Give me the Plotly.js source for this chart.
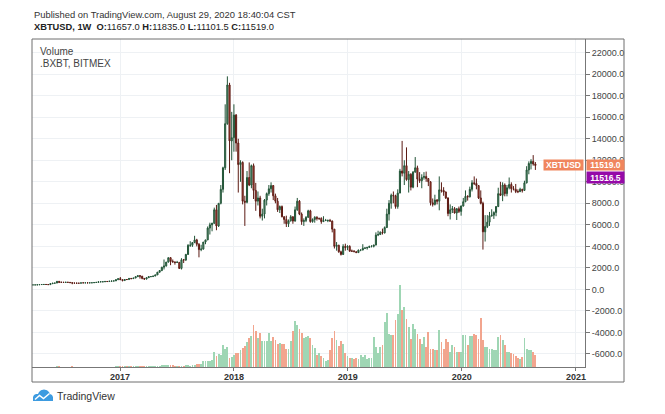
<!DOCTYPE html>
<html>
<head>
<meta charset="utf-8">
<script src="https://cdn.plot.ly/plotly-3.0.1.min.js"></script>
<style>
html,body{margin:0;padding:0;background:#fff;}
#chart{width:665px;height:414px;}
</style>
</head>
<body>
<div id="chart"></div>
<script>
// ---- DATA (weekly candles of XBTUSD) ----
const firstWeek = '2016-03-28';
const openP = [
416,420,420,428,450,455,459,456,442,530,577,590,750,660,660,650,665,655,625,590,585,580,575,610,608,610,605,610,617,640,655,700,705,705,740,730,765,777,790,900,
1000,905,820,920,915,1020,1000,1055,1180,1270,1230,1020,960,1090,1180,1190,1240,1345,1600,1750,2060,2180,2540,2950,2600,2550,2500,2510,1950,2750,2730,3250,4100,4100,4350,4600,4200,3700,3750,4400,4600,5700,6000,6140,7400,5900,8000,9300,11300,15400,19000,13800,
14100,16200,13600,11600,11800,8200,8100,10400,9700,11500,9200,8200,8500,6800,7000,8300,8900,9350,9650,8700,8200,7400,7700,6750,6500,6100,6380,6750,6350,7400,8200,7000,6300,6400,6700,7300,6300,6500,6700,6600,6600,6300,6400,6400,6400,6350,5600,4000,4100,3500,3250,4000,3900,
4000,3550,3550,3500,3420,3650,3650,3820,3850,3900,4000,4000,4120,5050,5100,5300,5250,5750,7000,8000,8750,8700,7700,8950,11000,10800,11500,10200,10700,9500,10900,11300,10250,10100,10400,10500,10300,10000,8050,7900,8300,8200,9250,9200,9050,8500,7050,7400,7500,7100,7500,7250,
7750,8150,8650,8600,9300,9900,9850,9650,8500,8000,5350,5850,6250,6850,6900,7150,7700,8900,8750,9700,8900,9450,9750,9350,9300,9100,9080,9300,9200,9900,11100,11700,11900,11657
];
const highP = [
425,425,430,452,468,464,462,458,535,590,600,780,770,705,690,680,675,660,630,600,590,585,615,630,612,612,615,620,645,660,720,740,750,755,750,770,780,795,930,1000,
1150,910,930,925,1035,1060,1060,1200,1290,1330,1250,1060,1100,1200,1210,1245,1350,1620,1800,2100,2780,2550,2950,2980,2780,2600,2650,2550,2900,2830,3300,4200,4480,4380,4980,4700,4300,4150,4400,4600,5850,6200,6200,7600,7850,8000,9700,11400,17200,19800,19200,16500,
17200,16300,14000,12000,11900,8700,11000,11800,11600,11700,9900,9100,8700,7500,8400,9000,9700,9950,9700,8900,8500,7800,7800,6800,6850,6500,6900,6800,7700,8500,8300,7150,6600,6800,7400,7400,6600,6800,6800,6650,6700,6800,6550,6500,6550,6400,5600,4400,4150,3600,4200,4250,4100,
4100,3700,3650,3550,3700,3700,4200,3900,3950,4050,4100,4150,5300,5450,5400,5650,5850,7500,8300,8900,9100,8800,9300,11200,13800,12000,13200,11000,10800,11000,12300,11500,10900,10700,10900,10950,10350,10050,8450,8800,8400,10500,9950,9500,9100,8550,7900,7750,7650,7550,7700,7800,
8500,9200,8750,9550,10150,10500,10300,9700,9200,8150,6900,6900,7200,7450,7250,7750,9450,10000,9950,9850,9700,10400,9950,9600,9800,9300,9450,9350,10100,11450,11900,12100,12480,11835
];
const lowP = [
412,415,418,426,443,442,448,436,440,525,570,588,590,620,615,645,645,620,480,580,565,570,570,600,600,592,600,605,612,630,650,690,700,695,725,725,750,770,785,890,
880,750,810,880,910,950,995,1050,1160,1000,940,900,930,1060,1160,1180,1230,1340,1550,1700,1850,2120,2500,2250,2500,2300,2480,1900,1850,2450,2650,3200,3950,3950,4300,4000,2980,3550,3700,4200,4580,5100,5400,6100,5500,5800,7900,9000,11100,15300,10800,12000,
12800,12800,9000,10000,7900,5900,8000,9600,9400,8400,7300,7800,6600,6400,6600,7800,8700,9000,8300,8000,7200,7100,6700,6100,5800,5800,6300,6100,6300,7300,6900,6000,5900,6250,6650,6200,6200,6200,6400,6450,6100,6300,6350,6250,6300,5300,3800,3600,3400,3150,3200,3600,3650,
3500,3500,3500,3400,3380,3550,3650,3750,3700,3850,3900,3900,4100,4950,5050,5100,5200,5700,6400,7500,8000,7500,7500,8950,10500,9700,10100,9000,9200,9400,10850,9500,9900,9400,10200,10000,9600,7800,7700,7800,7900,7350,9000,8700,8400,6800,6500,7100,7050,6450,7100,6850,
7700,8100,8250,8550,9100,9700,9300,8400,7900,3700,4450,5700,5900,6750,6550,6800,7650,8700,8200,8650,8650,9300,9000,9200,8950,8950,9050,9000,9150,9850,10700,11150,11500,11101.5
];
const closeP = [
420,420,428,450,455,459,456,442,530,577,590,750,660,660,650,665,655,625,590,585,580,575,610,608,610,605,610,617,640,655,700,705,705,740,730,765,777,790,900,1000,
905,820,920,915,1020,1000,1055,1180,1270,1230,1020,960,1090,1180,1190,1240,1345,1600,1750,2060,2180,2540,2950,2600,2550,2500,2510,1950,2750,2730,3250,4100,4100,4350,4600,4200,3700,3750,4400,4600,5700,6000,6140,7400,5900,8000,9300,11300,15400,19000,13800,14100,
16200,13600,11600,11800,8200,8100,10400,9700,11500,9200,8200,8500,6800,7000,8300,8900,9350,9650,8700,8200,7400,7700,6750,6500,6100,6380,6750,6350,7400,8200,7000,6300,6400,6700,7300,6300,6500,6700,6600,6600,6300,6400,6400,6400,6350,5600,4000,4100,3500,3250,4000,3900,4000,
3550,3550,3500,3420,3650,3650,3820,3850,3900,4000,4000,4120,5050,5100,5300,5250,5750,7000,8000,8750,8700,7700,8950,11000,10800,11500,10200,10700,9500,10900,11300,10250,10100,10400,10500,10300,10000,8050,7900,8300,8200,9250,9200,9050,8500,7050,7400,7500,7100,7500,7250,7750,
8150,8650,8600,9300,9900,9850,9650,8500,8000,5350,5850,6250,6850,6900,7150,7700,8900,8750,9700,8900,9450,9750,9350,9300,9100,9080,9300,9200,9900,11100,11700,11900,11650,11519
];
// volume, relative units
const volume = [
0.3,0.3,0.3,0.3,0.4,0.3,0.3,0.3,0.5,0.5,0.4,0.8,0.7,0.5,0.4,0.4,0.4,0.3,0.6,0.4,0.3,0.3,0.3,0.3,0.3,0.3,0.3,0.3,0.4,0.4,0.5,0.5,0.5,0.4,0.4,0.4,0.4,0.4,0.6,0.8,
1.5,1.2,0.8,0.7,0.8,0.9,0.8,1.0,1.2,1.5,1.5,1.2,1.0,1.0,0.8,0.8,1.0,1.3,1.5,1.8,2.5,1.8,2.0,2.2,1.6,1.4,1.2,
1,1,1.5,2,2,1.5,2,2.5,3,3,3,6,6,6,6,7,
15,11,13,12,22,18,20,9,10,12,14,14,17,19,21,25,29,31,42,36,29,34,26,26,26,34,26,30,27,23,24,23,23,18,18,26,36,46,42,38,34,29,30,31,29,22,19,12,14,11,9,6,7,17,29,36,27,21,26,23,14,11,9,9,8,9,8,
12,10,12,8,9,9,30,20,14,20,22,45,54,33,32,32,47,53,82,57,60,48,40,28,43,38,33,28,23,30,20,35,18,18,17,17,37,25,18,28,25,15,22,20,15,15,15,32,32,22,31,31,33,32,28,49,27,20,20,18,18,17,17,30,32,27,22,15,15,14,13,11,9,8,10,29,18,17,17,15,12
];
const yTickVals = [-6000,-4000,-2000,0,2000,4000,6000,8000,10000,12000,14000,16000,18000,20000,22000];
const xTickVals = ['2017-01-01','2018-01-01','2019-01-01','2020-01-01','2021-01-01'];
const xTickText = ['2017','2018','2019','2020','2021'];
const symbol = 'XBTUSD';
const markPrice = 11516.5;

// ---- build ----
function weeklyDates(start, n){
  const out = [];
  const t0 = Date.parse(start + 'T00:00:00Z');
  for (let i = 0; i < n; i++) out.push(new Date(t0 + i*7*86400000).toISOString().slice(0,10));
  return out;
}
const dates = weeklyDates(firstWeek, closeP.length);
const volColors = closeP.map((c,i) => c >= openP[i] ? '#9fd6b4' : '#f2a58e');
const last = closeP.length - 1;

const W = 665, Hh = 414, PL = 32, PR = 585, PT = 39, PB = 367;
const px = x => (x - PL) / (PR - PL);
const py = y => (PB - y) / (PB - PT);

function pathFrom(pts){
  return 'M' + pts.map(p => px(p[0]).toFixed(5) + ',' + py(p[1]).toFixed(5)).join(' L') ;
}

const candle = {
  type: 'candlestick', x: dates, open: openP, high: highP, low: lowP, close: closeP,
  increasing: {line: {color: '#225437', width: 1}, fillcolor: '#6ba583'},
  decreasing: {line: {color: '#5b1a13', width: 1}, fillcolor: '#d75442'},
  whiskerwidth: 0, showlegend: false, hoverinfo: 'skip', xaxis: 'x', yaxis: 'y'
};
const vol = {
  type: 'bar', x: dates, y: volume, yaxis: 'y2', xaxis: 'x',
  marker: {color: volColors, line: {width: 0}}, width: 5.8*86400000,
  showlegend: false, hoverinfo: 'skip'
};

const fontMain = 'Liberation Sans, Arial, sans-serif';
const hdr2 = '<b>' + symbol + ', 1W</b>  <b>O:</b>' + openP[last].toFixed(1) +
  ' <b>H:</b>' + highP[last].toFixed(1) + ' <b>L:</b>' + lowP[last].toFixed(1) +
  ' <b>C:</b>' + closeP[last].toFixed(1);

const layout = {
  width: W, height: Hh,
  margin: {l: PL, r: W - PR, t: PT, b: Hh - PB, pad: 0},
  paper_bgcolor: '#ffffff', plot_bgcolor: '#ffffff',
  font: {family: fontMain, color: '#333'},
  showlegend: false,
  bargap: 0,
  xaxis: {
    type: 'date', range: ['2016-03-25', '2021-01-30'],
    tickmode: 'array', tickvals: xTickVals, ticktext: xTickText,
    ticks: 'outside', ticklen: 3, tickcolor: '#777', tickwidth: 1,
    ticklabelstandoff: -2,
    showline: true, linecolor: '#777', linewidth: 1,
    showgrid: true, gridcolor: '#eef1f4', gridwidth: 1,
    zeroline: false,
    tickfont: {size: 9, color: '#333', family: fontMain, weight: 'bold'},
    rangeslider: {visible: false}, fixedrange: true
  },
  yaxis: {
    side: 'right', range: [-7212, 23271],
    tickmode: 'array', tickvals: yTickVals, ticktext: yTickVals.map(v => v.toFixed(1)),
    ticks: 'outside', ticklen: 4, tickcolor: '#777', tickwidth: 1,
    showline: true, linecolor: '#777', linewidth: 1,
    showgrid: true, gridcolor: '#eef1f4', gridwidth: 1,
    zeroline: false,
    tickfont: {size: 9, color: '#444', family: fontMain},
    fixedrange: true
  },
  yaxis2: {
    overlaying: 'y', side: 'right', range: [0, 328], visible: false,
    showgrid: false, zeroline: false, fixedrange: true
  },
  shapes: [
    {type: 'rect', xref: 'paper', yref: 'paper', x0: 0, x1: px(624), y0: py(382), y1: 1,
     line: {color: '#6e6e6e', width: 1}, fillcolor: 'rgba(0,0,0,0)', layer: 'above'},
    {type: 'path', xref: 'paper', yref: 'paper',
     path: pathFrom([[33,401],[33,397],[34,395],[36,394],[38,394],[39,392],[41,390.3],[44,389.5],[47,390.2],[49,392],[50,394],[52,395],[53,397],[53,401]]) + ' Z',
     fillcolor: '#3d9be0', line: {width: 0}, layer: 'above'},
    {type: 'path', xref: 'paper', yref: 'paper',
     path: pathFrom([[35,399.5],[39.5,395.5],[43.5,398.5],[49.5,393.5]]),
     line: {color: '#ffffff', width: 1.5}, layer: 'above'}
  ],
  annotations: [
    {xref: 'paper', yref: 'paper', x: px(32), y: py(15), xanchor: 'left', yanchor: 'middle',
     text: 'Published on TradingView.com, August 29, 2020 18:40:04 CST', showarrow: false,
     font: {size: 9.4, color: '#333', family: fontMain}},
    {xref: 'paper', yref: 'paper', x: px(32), y: py(27), xanchor: 'left', yanchor: 'middle',
     text: hdr2, showarrow: false, font: {size: 9.3, color: '#222', family: fontMain}},
    {xref: 'paper', yref: 'paper', x: px(38), y: py(51), xanchor: 'left', yanchor: 'middle',
     text: 'Volume', showarrow: false, font: {size: 10, color: '#444', family: fontMain}},
    {xref: 'paper', yref: 'paper', x: px(38), y: py(64), xanchor: 'left', yanchor: 'middle',
     text: '.BXBT, BITMEX', showarrow: false, font: {size: 10, color: '#444', family: fontMain}},
    {xref: 'paper', yref: 'y', x: px(543), y: closeP[last], xanchor: 'left', yanchor: 'middle',
     text: '<b>' + symbol + '</b>', showarrow: false, bgcolor: '#f0855d', borderpad: 0,
     width: 39, height: 10, align: 'center', font: {size: 8.5, color: '#ffffff', family: fontMain}},
    {xref: 'paper', yref: 'y', x: px(586), y: closeP[last], xanchor: 'left', yanchor: 'middle',
     text: '<b>' + closeP[last].toFixed(1) + '</b>', showarrow: false, bgcolor: '#f0855d', borderpad: 0,
     width: 37, height: 10, align: 'center', font: {size: 8.5, color: '#ffffff', family: fontMain}},
    {xref: 'paper', yref: 'paper', x: px(586), y: py(177), xanchor: 'left', yanchor: 'middle',
     text: '<b>' + markPrice.toFixed(1) + '</b>', showarrow: false, bgcolor: '#950aa8', borderpad: 0,
     width: 37, height: 11, align: 'center', font: {size: 8.5, color: '#ffffff', family: fontMain}},
    {xref: 'paper', yref: 'paper', x: px(55), y: py(395.5), xanchor: 'left', yanchor: 'middle',
     text: 'TradingView', showarrow: false, font: {size: 10.5, color: '#333', family: fontMain}}
  ]
};

Plotly.newPlot('chart', [vol, candle], layout, {staticPlot: true, displayModeBar: false});
</script>
</body>
</html>
